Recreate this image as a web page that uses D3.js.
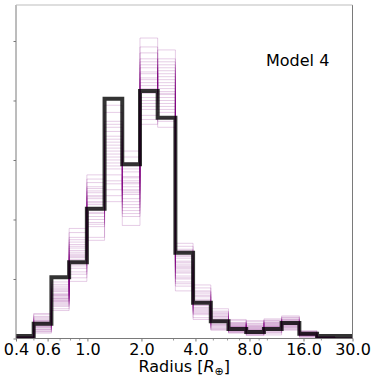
<!DOCTYPE html>
<html>
<head>
<meta charset="utf-8">
<script src="https://cdn.jsdelivr.net/npm/d3@7/dist/d3.min.js"></script>
<style>
  body { margin: 0; background: #fff; }
  svg { display: block; }
</style>
</head>
<body>
<svg id="chart"></svg>
<script>
// radius bin edges (log spaced, 19 bins between 0.4 and 30 Earth radii)
var BIN_EDGES = [0.4, 0.502, 0.630, 0.791, 0.993, 1.246, 1.564, 1.963, 2.463, 3.092,
  3.880, 4.870, 6.112, 7.672, 9.629, 12.085, 15.168, 19.037, 23.894, 30.0];

// thick black histogram (one value per bin)
var MODEL_VALUES = [0.04, 0.25, 1.03, 1.28, 2.18, 4.03, 2.93, 4.16, 3.71, 1.44,
  0.60, 0.29, 0.16, 0.11, 0.16, 0.26, 0.08, 0.04, 0.04];

// thin purple draws, listed bin by bin (draw i = i-th entry of every bin)
var DRAWS_BY_BIN = [
  [0.02, 0, 0.01, 0.03, 0, 0.02, 0.01, 0, 0.02, 0.01, 0.03, 0, 0.01, 0.02, 0, 0.01, 0.02, 0, 0.01, 0, 0.02, 0, 0.01, 0.03],
  [0.25, 0.18, 0.33, 0.12, 0.28, 0.21, 0.40, 0.15, 0.30, 0.23, 0.09, 0.35, 0.19, 0.26, 0.42, 0.14, 0.31, 0.22, 0.27, 0.16, 0.37, 0.20, 0.29, 0.11],
  [0.72, 0.58, 0.85, 0.66, 0.47, 0.79, 0.62, 0.95, 0.70, 0.54, 0.88, 0.68, 0.60, 0.76, 0.50, 0.83, 0.64, 0.74, 0.81, 0.56, 0.67, 0.91, 0.73, 0.63],
  [1.40, 1.62, 1.18, 1.52, 1.30, 1.85, 1.08, 1.45, 1.25, 1.70, 0.96, 1.36, 1.58, 1.22, 1.48, 1.78, 1.33, 1.12, 1.42, 1.28, 1.66, 1.02, 1.55, 1.38],
  [2.20, 2.45, 1.95, 2.62, 2.05, 2.30, 1.70, 2.55, 2.12, 2.38, 2.75, 1.88, 2.25, 2.48, 2.00, 2.35, 1.65, 2.16, 2.28, 1.92, 2.52, 2.10, 2.68, 2.40],
  [3.10, 2.85, 3.55, 2.60, 3.30, 3.80, 2.95, 3.20, 2.40, 3.65, 3.05, 3.40, 2.75, 3.92, 3.15, 2.30, 3.48, 2.90, 3.25, 2.65, 3.60, 3.00, 3.35, 2.50],
  [2.55, 2.30, 2.80, 2.10, 2.65, 2.42, 3.15, 2.20, 2.72, 1.90, 2.50, 2.95, 2.35, 2.60, 2.05, 2.85, 2.45, 3.05, 2.62, 2.25, 2.90, 2.48, 2.15, 2.70],
  [4.30, 4.05, 4.65, 3.85, 4.45, 5.05, 4.20, 3.60, 4.55, 4.12, 4.80, 3.95, 4.38, 4.90, 3.75, 4.25, 4.60, 4.00, 4.48, 3.90, 4.70, 4.15, 4.35, 3.68],
  [4.10, 4.40, 3.85, 4.60, 3.95, 4.25, 4.85, 3.70, 4.15, 4.50, 3.55, 4.30, 4.70, 4.05, 3.80, 4.35, 4.00, 4.55, 4.20, 3.90, 4.65, 4.12, 4.45, 3.65],
  [1.15, 1.35, 0.95, 1.25, 1.55, 1.05, 1.40, 0.80, 1.20, 1.30, 1.00, 1.60, 1.10, 1.45, 0.88, 1.22, 1.50, 1.18, 1.28, 0.92, 1.38, 1.12, 1.48, 1.02],
  [0.55, 0.70, 0.42, 0.62, 0.35, 0.80, 0.50, 0.90, 0.58, 0.46, 0.66, 0.32, 0.75, 0.52, 0.60, 0.85, 0.48, 0.64, 0.56, 0.40, 0.72, 0.61, 0.44, 0.78],
  [0.30, 0.22, 0.40, 0.18, 0.35, 0.26, 0.50, 0.15, 0.32, 0.28, 0.44, 0.20, 0.37, 0.24, 0.33, 0.14, 0.42, 0.27, 0.31, 0.23, 0.38, 0.17, 0.29, 0.46],
  [0.18, 0.12, 0.25, 0.20, 0.09, 0.30, 0.15, 0.22, 0.14, 0.27, 0.17, 0.11, 0.24, 0.19, 0.32, 0.13, 0.21, 0.16, 0.20, 0.26, 0.13, 0.23, 0.10, 0.18],
  [0.12, 0.20, 0.08, 0.15, 0.28, 0.10, 0.18, 0.05, 0.22, 0.13, 0.16, 0.25, 0.07, 0.19, 0.11, 0.30, 0.14, 0.09, 0.14, 0.21, 0.09, 0.17, 0.24, 0.06],
  [0.20, 0.14, 0.28, 0.10, 0.22, 0.17, 0.33, 0.12, 0.25, 0.19, 0.06, 0.24, 0.15, 0.30, 0.18, 0.09, 0.21, 0.26, 0.23, 0.16, 0.27, 0.13, 0.20, 0.31],
  [0.25, 0.32, 0.20, 0.28, 0.15, 0.36, 0.23, 0.30, 0.18, 0.26, 0.38, 0.22, 0.29, 0.14, 0.33, 0.24, 0.27, 0.21, 0.26, 0.19, 0.31, 0.24, 0.35, 0.17],
  [0.06, 0.10, 0.04, 0.08, 0.12, 0.05, 0.09, 0.03, 0.07, 0.11, 0.06, 0.02, 0.08, 0.10, 0.05, 0.13, 0.07, 0.04, 0.07, 0.09, 0.05, 0.11, 0.06, 0.08],
  [0.01, 0.02, 0, 0.01, 0.03, 0, 0.02, 0.01, 0, 0.02, 0.01, 0, 0.03, 0.01, 0.02, 0, 0.01, 0.02, 0.01, 0.02, 0, 0.01, 0.02, 0.01],
  [0, 0.01, 0, 0, 0.01, 0, 0, 0, 0.01, 0, 0, 0.01, 0, 0, 0, 0.01, 0, 0, 0, 0, 0.01, 0, 0, 0]
];

var X_TICKS = [0.4, 0.6, 1.0, 2.0, 4.0, 8.0, 16.0, 30.0];
var X_TICK_LABELS = ["0.4", "0.6", "1.0", "2.0", "4.0", "8.0", "16.0", "30.0"];
var X_MINOR_TICKS = [0.5, 0.7, 0.8, 0.9, 3, 5, 6, 7, 9, 10, 20];
var Y_TICKS = [0, 1, 2, 3, 4, 5];
var PANEL_LABEL = "Model 4";

var W = 374, H = 379;
var plotLeft = 16, plotRight = 352.5, plotTop = 5, plotBottom = 338.5;
var FONT = "'DejaVu Sans', sans-serif";

var svg = d3.select("#chart").attr("width", W).attr("height", H);

var x = d3.scaleLog().domain([0.4, 30]).range([plotLeft, plotRight]);
var y = d3.scaleLinear().domain([0, 5.605]).range([plotBottom, plotTop]);

svg.append("defs").append("clipPath").attr("id", "plot-clip")
  .append("rect")
  .attr("x", plotLeft).attr("y", plotTop)
  .attr("width", plotRight - plotLeft).attr("height", plotBottom - plotTop);

// step outline of a histogram, like histtype="step"
function stepPoints(values) {
  var pts = [[BIN_EDGES[0], 0]];
  values.forEach(function(v, i) {
    pts.push([BIN_EDGES[i], v]);
    pts.push([BIN_EDGES[i + 1], v]);
  });
  pts.push([BIN_EDGES[BIN_EDGES.length - 1], 0]);
  return pts;
}

var stepLine = d3.line()
  .x(function(d) { return x(d[0]); })
  .y(function(d) { return y(d[1]); });

var plot = svg.append("g").attr("clip-path", "url(#plot-clip)");

var nDraws = DRAWS_BY_BIN[0].length;
var draws = d3.range(nDraws).map(function(i) {
  return DRAWS_BY_BIN.map(function(bin) { return bin[i]; });
});

plot.append("g").attr("class", "draws")
  .selectAll("path").data(draws).enter().append("path")
  .attr("d", function(d) { return stepLine(stepPoints(d)); })
  .attr("fill", "none")
  .attr("stroke", "purple")
  .attr("stroke-opacity", 0.2)
  .attr("stroke-width", 1);

plot.append("path")
  .attr("d", stepLine(stepPoints(MODEL_VALUES)))
  .attr("fill", "none")
  .attr("stroke", "#000")
  .attr("stroke-opacity", 0.8)
  .attr("stroke-width", 4)
  .attr("stroke-linejoin", "miter");

// axes
var xAxis = d3.axisBottom(x)
  .tickValues(X_TICKS)
  .tickFormat(function(d, i) { return X_TICK_LABELS[i]; })
  .tickSize(3).tickPadding(2);
var gx = svg.append("g").attr("transform", "translate(0," + plotBottom + ")").call(xAxis);
gx.select(".domain").remove();
gx.selectAll("line").attr("stroke", "#777");
gx.selectAll("text").attr("font-family", FONT).attr("font-size", "16px").attr("fill", "#000");

var gxMinor = svg.append("g").attr("transform", "translate(0," + plotBottom + ")")
  .call(d3.axisBottom(x).tickValues(X_MINOR_TICKS).tickFormat("").tickSize(2));
gxMinor.select(".domain").remove();
gxMinor.selectAll("line").attr("stroke", "#999");

var gy = svg.append("g").attr("transform", "translate(" + plotLeft + ",0)")
  .call(d3.axisLeft(y).tickValues(Y_TICKS).tickFormat("").tickSize(2.5));
gy.select(".domain").remove();
gy.selectAll("line").attr("stroke", "#777");

// frame
var frame = svg.append("g").attr("fill", "none");
frame.append("line").attr("x1", plotLeft).attr("x2", plotLeft).attr("y1", plotTop).attr("y2", plotBottom).attr("stroke", "#7a7a7a");
frame.append("line").attr("x1", plotRight).attr("x2", plotRight).attr("y1", plotTop).attr("y2", plotBottom).attr("stroke", "#7a7a7a");
frame.append("line").attr("x1", plotLeft).attr("x2", plotRight).attr("y1", plotBottom).attr("y2", plotBottom).attr("stroke", "#7a7a7a");
frame.append("line").attr("x1", plotLeft).attr("x2", plotRight).attr("y1", plotTop).attr("y2", plotTop).attr("stroke", "#bdbdbd");

// x label: Radius [R_⊕]
var xl = svg.append("text")
  .attr("x", (plotLeft + plotRight) / 2).attr("y", 372)
  .attr("text-anchor", "middle")
  .attr("font-family", FONT).attr("font-size", "16px").attr("fill", "#000");
xl.append("tspan").text("Radius [");
xl.append("tspan").attr("font-style", "italic").text("R");
xl.append("tspan").attr("font-size", "11px").attr("dy", 3).text("\u2295");
xl.append("tspan").attr("dy", -3).text("]");

svg.append("text")
  .attr("x", 266).attr("y", 65.5)
  .attr("font-family", FONT).attr("font-size", "16px").attr("fill", "#000")
  .text(PANEL_LABEL);
</script>
</body>
</html>
